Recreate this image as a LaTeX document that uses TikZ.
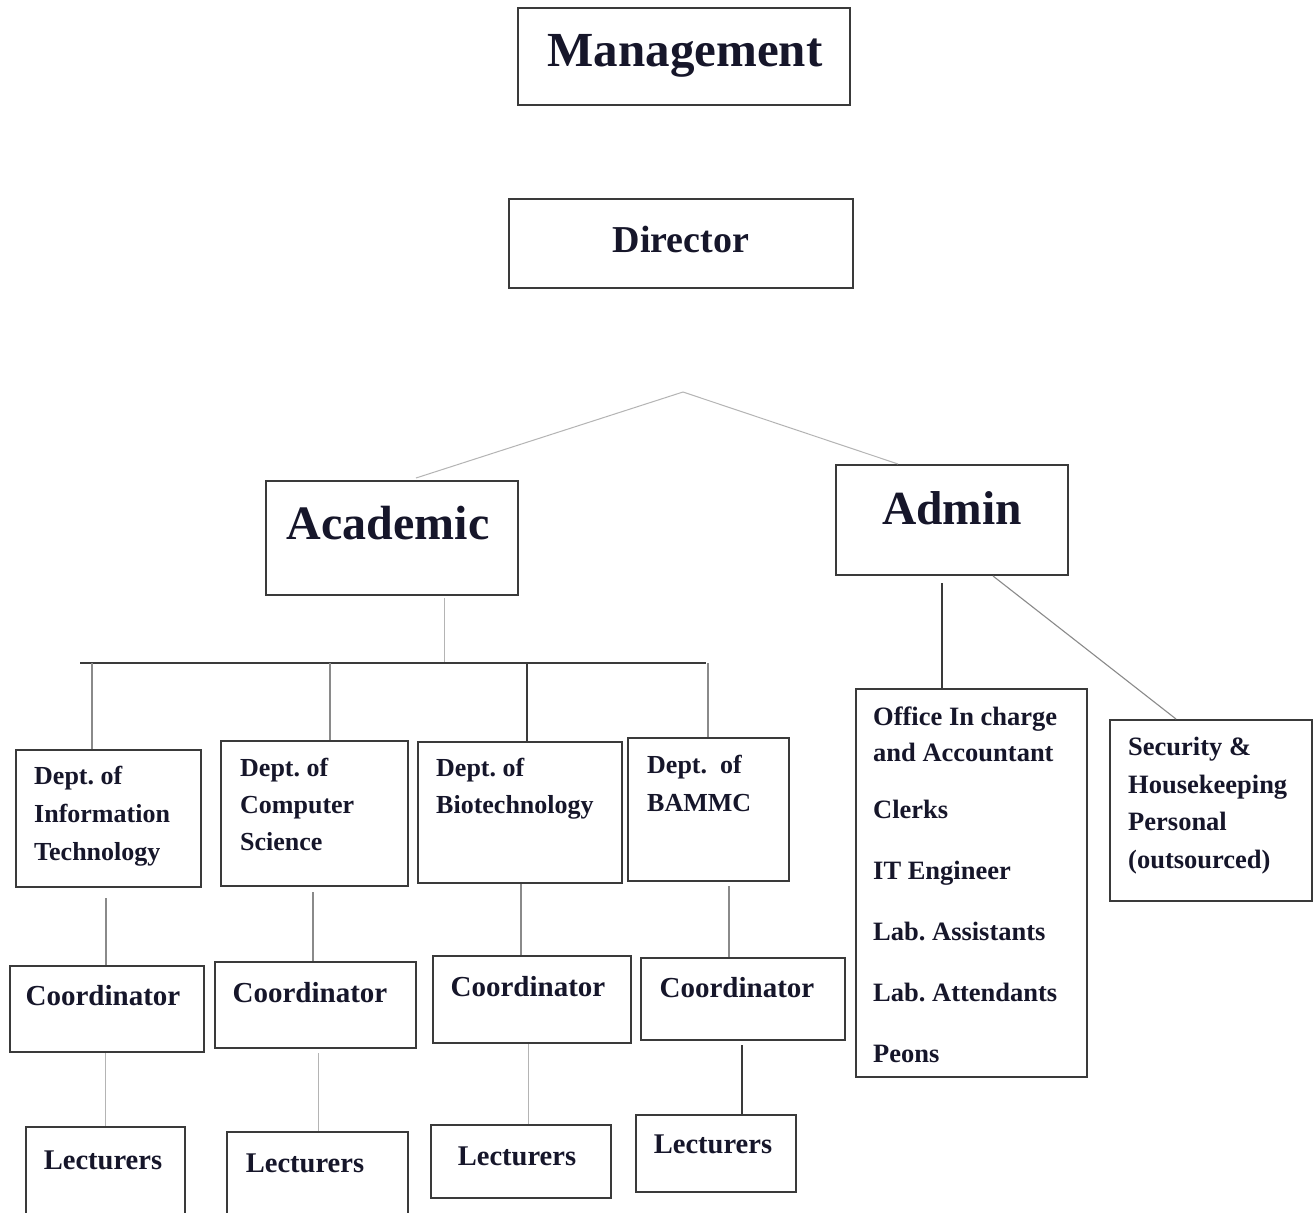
\documentclass[tikz,border=0pt]{standalone}
\usepackage{fontspec}
\setmainfont{Liberation Serif}
\usetikzlibrary{fit}
\definecolor{ink}{HTML}{16162A}
\definecolor{boxc}{HTML}{3A3A3A}
\definecolor{faint}{HTML}{B4B4B4}
\definecolor{mid}{HTML}{8A8A8A}
\frenchspacing
\begin{document}
\begin{tikzpicture}[x=1pt,y=-1pt,
  box/.style={draw=boxc, line width=1.6pt, inner sep=0pt, rectangle},
  txt/.style={text=ink, inner sep=0pt, font=\bfseries},
  ltxt/.style={txt, anchor=north west, align=left},
  dark/.style={draw=boxc, line width=1.6pt},
  thin/.style={draw=mid, line width=1.1pt},
  pale/.style={draw=faint, line width=1pt},
  bus/.style={draw=boxc, line width=2.6pt}]
\useasboundingbox (0,0) rectangle (1316,1212);
\fill[white] (0,0) rectangle (1316,1212);

% boxes
\node[box, fit={(518,8)(850,105)}] (mgmt) {};
\node[box, fit={(509,199)(853,288)}] (dir) {};
\node[box, fit={(266,481)(518,595)}] (acad) {};
\node[box, fit={(836,465)(1068,575)}] (admin) {};
\node[box, fit={(16,750)(201,887)}] (dIT) {};
\node[box, fit={(221,741)(408,886)}] (dCS) {};
\node[box, fit={(418,742)(622,883)}] (dBio) {};
\node[box, fit={(628,738)(789,881)}] (dBA) {};
\node[box, fit={(10,966)(204,1052)}] (c1) {};
\node[box, fit={(215,962)(416,1048)}] (c2) {};
\node[box, fit={(433,956)(631,1043)}] (c3) {};
\node[box, fit={(641,958)(845,1040)}] (c4) {};
\node[box, fit={(26,1127)(185,1224)}] (l1) {};
\node[box, fit={(227,1132)(408,1224)}] (l2) {};
\node[box, fit={(431,1125)(611,1198)}] (l3) {};
\node[box, fit={(636,1115)(796,1192)}] (l4) {};
\node[box, fit={(856,689)(1087,1077)}] (office) {};
\node[box, fit={(1110,720)(1312,901)}] (sec) {};

% texts
\node[txt, font=\bfseries\fontsize{49}{55}\selectfont] (tmgmt) at (685,56) {Management};
\node[txt, font=\bfseries\fontsize{38}{44}\selectfont] (tdir) at (681,240) {Director};
\node[txt, font=\bfseries\fontsize{48}{54}\selectfont] (tacad) at (388,523) {Academic};
\node[txt, font=\bfseries\fontsize{47.5}{54}\selectfont] (tadmin) at (952,508) {Admin};

\node[ltxt, font=\bfseries\fontsize{26}{38}\selectfont] (tIT) at (34,766) {Dept. of\\Information\\Technology};
\node[ltxt, font=\bfseries\fontsize{26}{37}\selectfont] (tCS) at (240,758) {Dept. of\\Computer\\Science};
\node[ltxt, font=\bfseries\fontsize{26}{37}\selectfont] (tBio) at (436,758) {Dept. of\\Biotechnology};
\node[ltxt, font=\bfseries\fontsize{26}{38}\selectfont] (tBA) at (647,755) {Dept.~ of\\BAMMC};

\node[txt, font=\bfseries\fontsize{29}{34}\selectfont] (tc1) at (103,996) {Coordinator};
\node[txt, font=\bfseries\fontsize{29}{34}\selectfont] (tc2) at (310,993) {Coordinator};
\node[txt, font=\bfseries\fontsize{29}{34}\selectfont] (tc3) at (528,987) {Coordinator};
\node[txt, font=\bfseries\fontsize{29}{34}\selectfont] (tc4) at (737,988) {Coordinator};

\node[txt, font=\bfseries\fontsize{28.5}{34}\selectfont] (tl1) at (103,1160) {Lecturers};
\node[txt, font=\bfseries\fontsize{28.5}{34}\selectfont] (tl2) at (305,1163) {Lecturers};
\node[txt, font=\bfseries\fontsize{28.5}{34}\selectfont] (tl3) at (517,1156) {Lecturers};
\node[txt, font=\bfseries\fontsize{28.5}{34}\selectfont] (tl4) at (713,1144) {Lecturers};

\node[ltxt, font=\bfseries\fontsize{26.5}{36}\selectfont] (toffice) at (873,707)
  {Office In charge\\and Accountant\\[21pt]Clerks\\[25pt]IT Engineer\\[25pt]Lab. Assistants\\[25pt]Lab. Attendants\\[25pt]Peons};
\node[ltxt, font=\bfseries\fontsize{26.5}{37.5}\selectfont] (tsec) at (1128,737)
  {Security \&\\Housekeeping\\Personal\\(outsourced)};

% connectors: director level to academic / admin
\coordinate (apex) at (683,392);
\draw[pale] (apex) -- (416,478);
\draw[pale] (apex) -- (898,464);

% academic to bus
\coordinate (busL) at (80,663);
\coordinate (busR) at (706,663);
\coordinate (acadDown) at (444,662);
\draw[pale] (acad.south -| acadDown) ++(0,2) -- (acadDown);
\draw[bus] (busL) -- (busR);

\coordinate (b1) at (92,663);
\coordinate (b2) at (330,663);
\coordinate (b3) at (527,663);
\coordinate (b4) at (708,663);
\draw[thin] (b1) -- (b1 |- dIT.north);
\draw[thin] (b2) -- (b2 |- dCS.north);
\draw[dark] (b3) -- (b3 |- dBio.north);
\draw[thin] (b4) -- (b4 |- dBA.north);

% dept to coordinator
\coordinate (d1) at (106,898);
\coordinate (d2) at (313,892);
\coordinate (d3) at (521,884);
\coordinate (d4) at (729,886);
\draw[thin] (d1) -- (d1 |- c1.north);
\draw[thin] (d2) -- (d2 |- c2.north);
\draw[thin] (d3) -- (d3 |- c3.north);
\draw[thin] (d4) -- (d4 |- c4.north);

% coordinator to lecturers
\coordinate (e1) at (105,1053);
\coordinate (e2) at (318,1053);
\coordinate (e3) at (528,1044);
\coordinate (e4) at (742,1045);
\draw[pale] (e1) -- (e1 |- l1.north);
\draw[pale] (e2) -- (e2 |- l2.north);
\draw[pale] (e3) -- (e3 |- l3.north);
\draw[dark] (e4) -- (e4 |- l4.north);

% admin branches
\coordinate (a1) at (942,583);
\draw[dark] (a1) -- (a1 |- office.north);
\coordinate (a2) at (993,576);
\coordinate (s2) at (1176,719);
\draw[thin] (a2) -- (s2);
\end{tikzpicture}
\end{document}
